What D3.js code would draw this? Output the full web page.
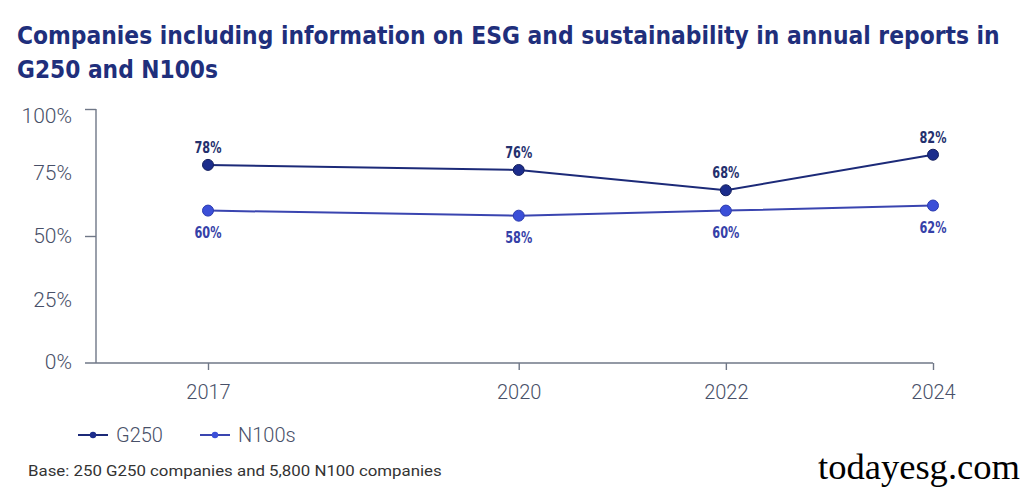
<!DOCTYPE html>
<html>
<head>
<meta charset="utf-8">
<script src="https://cdn.jsdelivr.net/npm/d3@7"></script>
<style>
  html, body { margin: 0; padding: 0; background: #ffffff; }
  svg { display: block; }
</style>
</head>
<body>
<svg id="chart" width="1024" height="488"></svg>
<script>
// ---- data ----
const years = [2017, 2020, 2022, 2024];
const g250 = [78, 76, 68, 82];
const n100 = [60, 58, 60, 62];
const yTicks = [0, 25, 50, 75, 100];
const seriesNames = ["G250", "N100s"];
const titleLines = [
  "Companies including information on ESG and sustainability in annual reports in",
  "G250 and N100s"
];
const footnote = "Base: 250 G250 companies and 5,800 N100 companies";
const watermark = "todayesg.com";

// ---- layout ----
const svg = d3.select("#chart");
const navy = "#1c2a78";
const blue = "#3b4fd8";
const blueLine = "#3a45b0";
const axisCol = "#6f7787";
const tickText = "#485068";

const x = d3.scaleLinear().domain([2017, 2024]).range([208, 933]);
const y = d3.scaleLinear().domain([0, 100]).range([363, 109]);

// scale a text horizontally (anchored at its x) so that it spans a given width
function fitWidth(sel, widthFn) {
  sel.each(function (d, i) {
    const t = d3.select(this);
    const x0 = +t.attr("x");
    const w = this.getComputedTextLength();
    const target = widthFn(d, i);
    const k = target / w;
    t.attr("transform", `translate(${x0},0) scale(${k},1) translate(${-x0},0)`);
  });
}

// title
const titles = svg.selectAll("text.title").data(titleLines).join("text")
  .attr("class", "title")
  .attr("x", 17)
  .attr("y", (d, i) => 44 + i * 34)
  .attr("fill", "#1f2f7c")
  .attr("font-family", "'DejaVu Sans'")
  .attr("font-stretch", "condensed")
  .attr("font-weight", "bold")
  .attr("font-size", 25)
  .text(d => d);
fitWidth(titles, (d, i) => i === 0 ? 983 : 201);

// y axis line
const yAxis = d3.axisLeft(y).tickValues([50, 100]).tickSize(11).tickFormat("");
const gy = svg.append("g").attr("transform", "translate(96,0)").call(yAxis);
gy.select(".domain").attr("d", `M0,${y(100)}V${y(0)}`);
gy.selectAll("path, line").attr("stroke", axisCol).attr("stroke-width", 1.4);

// y tick labels
svg.selectAll("text.ylab").data(yTicks).join("text")
  .attr("class", "ylab")
  .attr("x", 72)
  .attr("y", d => y(d) + 7 + (d === 100 ? 7 : 0) - (d === 0 ? 1 : 0))
  .attr("text-anchor", "end")
  .attr("fill", tickText)
  .attr("font-family", "Roboto")
  .attr("font-weight", 300)
  .attr("font-size", 21)
  .text(d => d + "%");

// x axis
const xAxis = d3.axisBottom(x).tickValues(years).tickSize(7).tickFormat(d3.format("d"));
const gx = svg.append("g").attr("transform", `translate(0,${y(0)})`).call(xAxis);
gx.select(".domain").attr("d", `M85,0H${x(2024)}`);
gx.selectAll("path, line").attr("stroke", axisCol).attr("stroke-width", 1.4);
gx.selectAll("text")
  .attr("dy", null)
  .attr("y", 36)
  .attr("fill", tickText)
  .attr("font-family", "Roboto")
  .attr("font-weight", 300)
  .attr("font-size", 20);

// lines
const line = d3.line().x(d => x(d[0])).y(d => y(d[1]));
const gData = years.map((yr, i) => [yr, g250[i]]);
const nData = years.map((yr, i) => [yr, n100[i]]);

svg.append("path").datum(nData).attr("d", line)
  .attr("fill", "none").attr("stroke", blueLine).attr("stroke-width", 2);
svg.append("path").datum(gData).attr("d", line)
  .attr("fill", "none").attr("stroke", navy).attr("stroke-width", 2);

svg.selectAll("circle.n").data(nData).join("circle")
  .attr("class", "n")
  .attr("cx", d => x(d[0])).attr("cy", d => y(d[1])).attr("r", 5.5)
  .attr("fill", blue).attr("stroke", "#2c3bb0").attr("stroke-width", 1);
svg.selectAll("circle.g").data(gData).join("circle")
  .attr("class", "g")
  .attr("cx", d => x(d[0])).attr("cy", d => y(d[1])).attr("r", 5.5)
  .attr("fill", "#1c2d8c").attr("stroke", "#15205e").attr("stroke-width", 1);

// data labels
function labels(data, cls, color, dy) {
  svg.selectAll("text." + cls).data(data).join("text")
    .attr("class", cls)
    .attr("x", d => x(d[0]))
    .attr("y", d => y(d[1]) + dy)
    .attr("text-anchor", "middle")
    .attr("fill", color)
    .attr("font-family", "'DejaVu Sans'")
    .attr("font-stretch", "condensed")
    .attr("font-weight", "bold")
    .attr("font-size", 16)
    .attr("textLength", d => (d[1] + "%").length * 9)
    .attr("lengthAdjust", "spacingAndGlyphs")
    .text(d => d[1] + "%");
}
labels(gData, "gl", "#24306e", -12);
labels(nData, "nl", "#3541a8", 27);

// legend
const legend = svg.append("g").attr("class", "legend");
const legItems = [
  { name: seriesNames[0], color: navy, dot: "#1c2d8c", x0: 78 },
  { name: seriesNames[1], color: blueLine, dot: blue, x0: 200 }
];
legItems.forEach(it => {
  legend.append("line").attr("x1", it.x0).attr("x2", it.x0 + 30)
    .attr("y1", 435).attr("y2", 435).attr("stroke", it.color).attr("stroke-width", 2);
  legend.append("circle").attr("cx", it.x0 + 15).attr("cy", 435).attr("r", 3.2).attr("fill", it.dot);
  legend.append("text").attr("x", it.x0 + 38).attr("y", 442)
    .attr("fill", tickText).attr("font-family", "Roboto").attr("font-weight", 300)
    .attr("font-size", 20).text(it.name);
});

// footnote
const foot = svg.append("text").attr("x", 28).attr("y", 476)
  .attr("fill", "#333").attr("font-family", "Roboto").attr("font-size", 15.5)
  .text(footnote);
fitWidth(foot, () => 414);

// watermark
const wm = svg.append("text").attr("x", 818).attr("y", 479)
  .attr("fill", "#000").attr("font-family", "'Liberation Serif'").attr("font-size", 36)
  .text(watermark);
fitWidth(wm, () => 202);
</script>
</body>
</html>
